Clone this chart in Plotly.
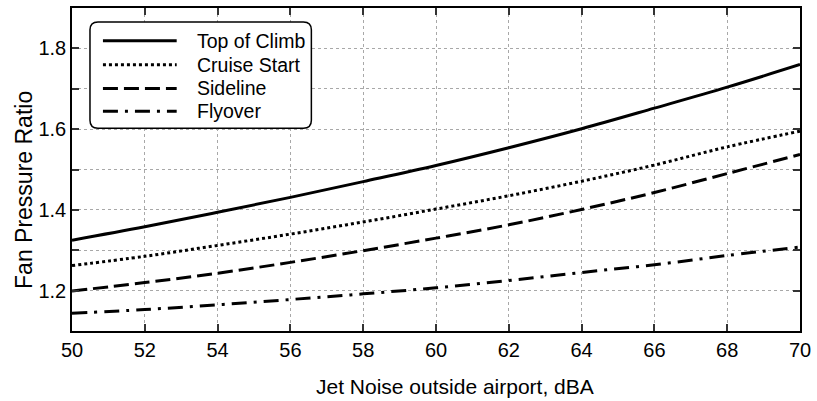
import plotly.graph_objects as go

noise = [50, 52, 54, 56, 58, 60, 62, 64, 66, 68, 70]
top_of_climb = [1.325, 1.358, 1.394, 1.431, 1.470, 1.510, 1.554, 1.601, 1.652, 1.704, 1.760]
cruise_start = [1.262, 1.285, 1.312, 1.340, 1.370, 1.402, 1.435, 1.471, 1.511, 1.556, 1.595]
sideline = [1.199, 1.220, 1.243, 1.270, 1.299, 1.330, 1.363, 1.401, 1.443, 1.490, 1.537]
flyover = [1.144, 1.153, 1.165, 1.178, 1.192, 1.207, 1.225, 1.245, 1.264, 1.287, 1.308]

names = ["Top of Climb", "Cruise Start", "Sideline", "Flyover"]
series = [top_of_climb, cruise_start, sideline, flyover]
dashes = ["solid", "3px,3px", "15px,6px", "15px,7px,3px,7px"]
widths = [3, 3, 3, 3]

x_title = "Jet Noise outside airport, dBA"
y_title = "Fan Pressure Ratio"

FONT = "Liberation Sans, Arial, sans-serif"

fig = go.Figure()
for n, s, d, w in zip(names, series, dashes, widths):
    fig.add_trace(go.Scatter(x=noise, y=s, name=n, mode="lines",
                             line=dict(color="black", width=w, dash=d, shape="spline"),
                             showlegend=False))

yt = [round(1.1 + 0.1 * i, 1) for i in range(9)]
ytext = [("%.1f" % v) if (round(v * 10) % 2 == 0 and 1.1 < v < 1.9) else "" for v in yt]

fig.update_layout(
    width=817, height=401,
    margin=dict(l=72, r=15, t=6, b=70),
    paper_bgcolor="white", plot_bgcolor="white",
    font=dict(family=FONT, size=20, color="black"),
    xaxis=dict(range=[50, 70], tickvals=list(range(50, 71, 2)),
               showgrid=True, gridcolor="#a8a8a8", griddash="dot", gridwidth=1,
               ticks="inside", ticklen=7, tickwidth=1.5, tickcolor="#333",
               showline=True, linecolor="black", linewidth=1.5, mirror="ticks",
               zeroline=False),
    yaxis=dict(range=[1.1, 1.9], tickvals=yt, ticktext=ytext,
               showgrid=True, gridcolor="#a8a8a8", griddash="dot", gridwidth=1,
               ticks="inside", ticklen=7, tickwidth=1.5, tickcolor="#333",
               showline=True, linecolor="black", linewidth=1.5, mirror="ticks",
               zeroline=False),
)

fig.add_annotation(x=0.5267, y=-0.172, xref="paper", yref="paper", text=x_title,
                   showarrow=False, xanchor="center", yanchor="middle",
                   font=dict(size=21, family=FONT, color="black"))
fig.add_annotation(x=-0.0658, y=0.437, xref="paper", yref="paper", text=y_title,
                   showarrow=False, xanchor="center", yanchor="middle", textangle=-90,
                   font=dict(size=23, family=FONT, color="black"))

# custom legend box with rounded corners (paper coords)
x0, x1 = 0.0247, 0.3288
y0, y1 = 0.628, 0.957
rx, ry = 8 / 730, 8 / 325
path = (f"M {x0+rx},{y0} L {x1-rx},{y0} Q {x1},{y0} {x1},{y0+ry} "
        f"L {x1},{y1-ry} Q {x1},{y1} {x1-rx},{y1} L {x0+rx},{y1} "
        f"Q {x0},{y1} {x0},{y1-ry} L {x0},{y0+ry} Q {x0},{y0} {x0+rx},{y0} Z")
fig.add_shape(type="path", path=path, xref="paper", yref="paper",
              line=dict(color="black", width=1.5), fillcolor="white", layer="above")

rows = [0.8985, 0.8246, 0.7508, 0.680]
for n, d, w, ry_ in zip(names, dashes, widths, rows):
    fig.add_shape(type="line", xref="paper", yref="paper", x0=0.0425, x1=0.1438,
                  y0=ry_, y1=ry_, line=dict(color="black", width=w, dash=d), layer="above")
    fig.add_annotation(x=0.1685, y=ry_, xref="paper", yref="paper", text=n,
                       showarrow=False, xanchor="left", yanchor="middle",
                       font=dict(size=19.5, family=FONT, color="black"))

fig.write_html("out.html")
